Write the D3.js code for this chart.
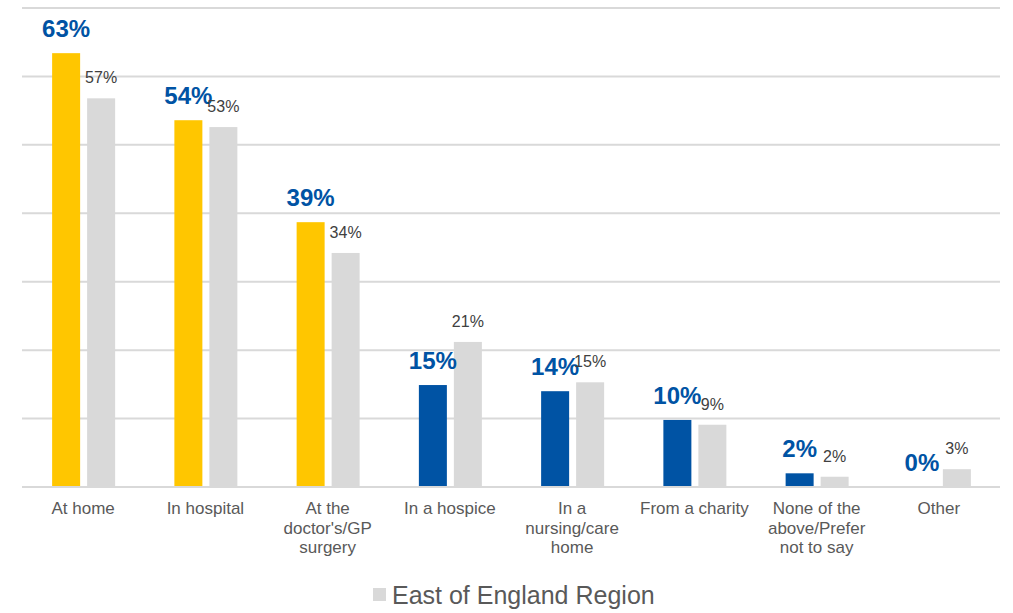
<!DOCTYPE html>
<html>
<head>
<meta charset="utf-8">
<script src="https://cdn.jsdelivr.net/npm/d3@7"></script>
<style>
  html, body { margin: 0; padding: 0; background: #fff; }
  svg { display: block; }
</style>
</head>
<body>
<svg id="chart" width="1013" height="613"></svg>
<script>
const categories = [
  "At home",
  "In hospital",
  "At the\ndoctor's/GP\nsurgery",
  "In a hospice",
  "In a\nnursing/care\nhome",
  "From a charity",
  "None of the\nabove/Prefer\nnot to say",
  "Other"
];
const localValues = [63.4, 53.6, 38.7, 14.9, 14.0, 9.8, 2.0, 0];
const regionValues = [56.8, 52.6, 34.2, 21.2, 15.3, 9.1, 1.5, 2.6];
const localColors = ["#FFC600", "#FFC600", "#FFC600", "#0053A4", "#0053A4", "#0053A4", "#0053A4", "#0053A4"];
const yTicks = [0, 10, 20, 30, 40, 50, 60, 70];
const legendLabel = "East of England Region";

(function () {
const svg = d3.select("#chart");
const font = "'Liberation Sans', Arial, sans-serif";
const mLeft = 22, mRight = 1000, mTop = 8, mBottom = 487;

const x = d3.scaleBand().domain(categories).range([mLeft, mRight]).padding(0);
const y = d3.scaleLinear().domain([0, 70]).range([mBottom, mTop]);

// gridlines
svg.append("g").selectAll("line").data(yTicks).join("line")
  .attr("x1", mLeft).attr("x2", mRight)
  .attr("y1", d => y(d)).attr("y2", d => y(d))
  .attr("stroke", "#d9d9d9").attr("stroke-width", 2);

const bw = 28;
const center = d => x(d) + x.bandwidth() / 2;

// local bars
svg.append("g").selectAll("rect").data(categories).join("rect")
  .attr("x", d => center(d) - 31)
  .attr("width", bw)
  .attr("y", (d, i) => y(localValues[i]))
  .attr("height", (d, i) => mBottom - y(localValues[i]))
  .attr("fill", (d, i) => localColors[i]);

// region bars
svg.append("g").selectAll("rect").data(categories).join("rect")
  .attr("x", d => center(d) + 4)
  .attr("width", bw)
  .attr("y", (d, i) => y(regionValues[i]))
  .attr("height", (d, i) => mBottom - y(regionValues[i]))
  .attr("fill", "#d9d9d9");

// baseline
svg.append("line").attr("x1", mLeft).attr("x2", mRight)
  .attr("y1", mBottom).attr("y2", mBottom)
  .attr("stroke", "#d9d9d9").attr("stroke-width", 2);

// local labels
svg.append("g").selectAll("text").data(categories).join("text")
  .attr("x", d => center(d) - 31 + bw / 2)
  .attr("y", (d, i) => y(localValues[i]) - 16)
  .attr("text-anchor", "middle")
  .attr("font-family", font).attr("font-weight", "bold").attr("font-size", 24)
  .attr("fill", "#0053A4")
  .text((d, i) => Math.round(localValues[i]) + "%");

// region labels
svg.append("g").selectAll("text").data(categories).join("text")
  .attr("x", d => center(d) + 4 + bw / 2)
  .attr("y", (d, i) => y(regionValues[i]) - 15)
  .attr("text-anchor", "middle")
  .attr("font-family", font).attr("font-size", 16)
  .attr("fill", "#404040")
  .text((d, i) => Math.round(regionValues[i]) + "%");

// category labels
const cat = svg.append("g").selectAll("text").data(categories).join("text")
  .attr("x", d => center(d))
  .attr("y", 514)
  .attr("text-anchor", "middle")
  .attr("font-family", font).attr("font-size", 17)
  .attr("fill", "#595959");
cat.each(function(d) {
  const lines = d.split("\n");
  d3.select(this).selectAll("tspan").data(lines).join("tspan")
    .attr("x", center(d))
    .attr("dy", (l, i) => i === 0 ? 0 : 19.5)
    .text(l => l);
});

// legend
svg.append("rect").attr("x", 373).attr("y", 588).attr("width", 13).attr("height", 13).attr("fill", "#d9d9d9");
svg.append("text").attr("x", 392).attr("y", 604)
  .attr("font-family", font).attr("font-size", 25).attr("fill", "#595959")
  .text(legendLabel);
})();
</script>
</body>
</html>
